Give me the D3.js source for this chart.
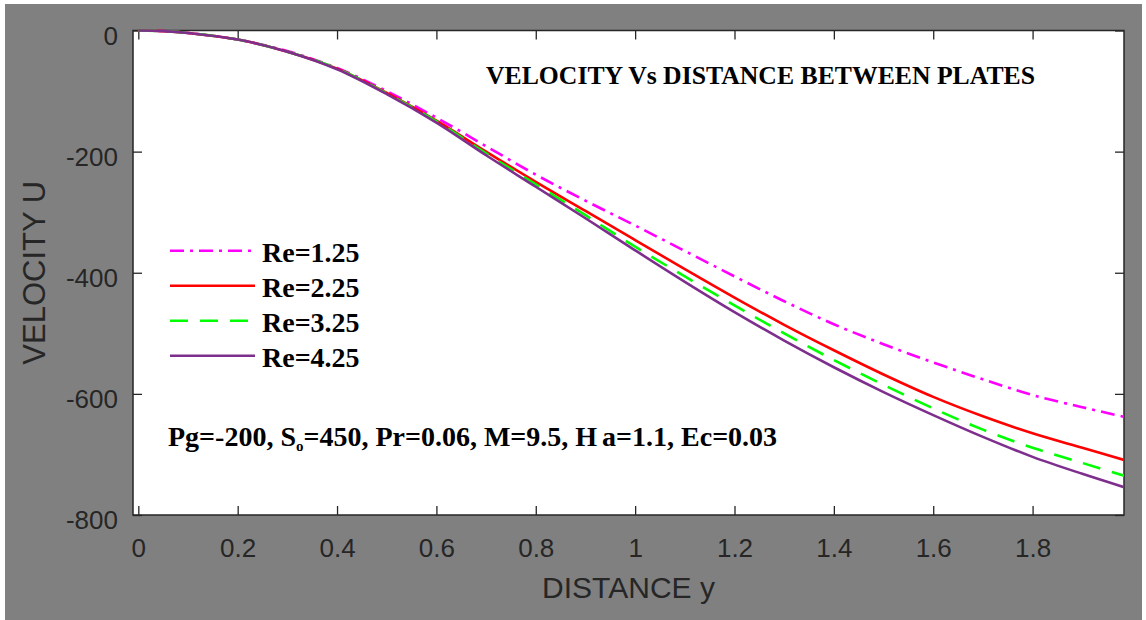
<!DOCTYPE html>
<html><head><meta charset="utf-8">
<script src="https://cdn.jsdelivr.net/npm/d3@7/dist/d3.min.js"></script>
<style>body{margin:0;background:#fff;overflow:hidden}</style>
</head><body>
<svg id="chart" width="1146" height="620"></svg>
<script>
// ---- data ----
const distance = [0,0.05,0.1,0.2,0.3,0.4,0.5,0.6,0.7,0.8,0.9,1.0,1.1,1.2,1.3,1.4,1.5,1.6,1.7,1.8,1.9,1.984];
const re125 = [0,-1,-4,-15,-34,-62,-100,-144,-191,-238,-281,-322,-364,-406,-447,-485,-518,-548,-576,-602,-622,-638];
const re225 = [0,-1,-4,-15,-35,-63,-103,-149,-200,-250,-298,-346,-394,-441,-486,-528,-568,-605,-637,-665,-689,-709];
const re325 = [0,-1,-4,-15,-35,-63,-104,-150,-203,-254,-305,-357,-406,-454,-500,-544,-585,-624,-659,-689,-714,-735];
const re425 = [0,-1,-4,-15,-35,-64,-105,-152,-206,-258,-310,-363,-415,-465,-512,-556,-597,-635,-671,-704,-732,-754];
const seriesNames = ["Re=1.25","Re=2.25","Re=3.25","Re=4.25"];
const xTicks = [0,0.2,0.4,0.6,0.8,1.0,1.2,1.4,1.6,1.8];
const yTicks = [-800,-600,-400,-200,0];
const xLimits = [-0.0107, 1.984];
const yLimits = [-800, 0];
const titleText = "VELOCITY Vs DISTANCE BETWEEN PLATES";
const xLabel = "DISTANCE y";
const yLabel = "VELOCITY U";

// ---- styles ----
const styles = [
  {color:"#ff00ff", dash:"14,6,3,6"},
  {color:"#ff0000", dash:null},
  {color:"#00ff00", dash:"18,12"},
  {color:"#7e2f8e", dash:null}
];
const allSeries = [re125, re225, re325, re425];

const svg = d3.select("#chart");
const L = 133, R = 1124, T = 30.5, B = 515;
const axisColor = "#262626";
const sans = "'Liberation Sans', Arial, Helvetica, sans-serif";
const serif = "'Liberation Serif', 'Times New Roman', serif";

svg.append("rect").attr("x",5).attr("y",4).attr("width",1137).attr("height",616).attr("fill","#808080");
svg.append("rect").attr("x",L).attr("y",T).attr("width",R-L).attr("height",B-T).attr("fill","#fff");

const x = d3.scaleLinear().domain(xLimits).range([L,R]);
const y = d3.scaleLinear().domain(yLimits).range([B,T]);

svg.append("clipPath").attr("id","clip").append("rect")
  .attr("x",L).attr("y",T-2).attr("width",R-L).attr("height",B-T+4);

const fmt = d => d3.format("~g")(d).replace("\u2212","-");
function styleAxis(g){
  g.select(".domain").remove();
  g.selectAll(".tick line").attr("stroke",axisColor).attr("stroke-width",1.3);
  g.selectAll("text").attr("fill",axisColor).style("font-family",sans).style("font-size","26px");
}
// bottom
svg.append("g").attr("transform",`translate(0,${B})`)
  .call(d3.axisBottom(x).tickValues(xTicks).tickFormat(fmt).tickSize(-9).tickPadding(24))
  .call(styleAxis);
// top
svg.append("g").attr("transform",`translate(0,${T})`)
  .call(d3.axisTop(x).tickValues(xTicks).tickFormat("").tickSize(-9))
  .call(styleAxis);
// left
svg.append("g").attr("transform",`translate(${L},0)`)
  .call(d3.axisLeft(y).tickValues(yTicks).tickFormat(fmt).tickSize(-9).tickPadding(15))
  .call(styleAxis)
  .call(g=>g.selectAll("text").attr("dy","0.52em"));
// right
svg.append("g").attr("transform",`translate(${R},0)`)
  .call(d3.axisRight(y).tickValues(yTicks).tickFormat("").tickSize(-9))
  .call(styleAxis);

// frame
svg.append("rect").attr("x",L).attr("y",T).attr("width",R-L).attr("height",B-T)
  .attr("fill","none").attr("stroke",axisColor).attr("stroke-width",1.5);

// lines
const line = d3.line().x((d,i)=>x(distance[i])).y(d=>y(d)).curve(d3.curveCatmullRom.alpha(0.5));
const plot = svg.append("g").attr("clip-path","url(#clip)");
allSeries.forEach((s,i)=>{
  plot.append("path").datum(s).attr("d",line)
    .attr("fill","none").attr("stroke",styles[i].color).attr("stroke-width",2.6)
    .attr("stroke-dasharray",styles[i].dash);
});

// legend
const lg = svg.append("g");
seriesNames.forEach((n,i)=>{
  const by = 261.7 + i*35;
  lg.append("line").attr("x1",170).attr("x2",255).attr("y1",by-11).attr("y2",by-11)
    .attr("stroke",styles[i].color).attr("stroke-width",2.6).attr("stroke-dasharray",styles[i].dash);
  lg.append("text").attr("x",262).attr("y",by).text(n)
    .style("font-family",serif).style("font-weight","bold").style("font-size","28px").attr("fill","#000");
});

// title
svg.append("text").attr("x",486).attr("y",84).text(titleText)
  .style("font-family",serif).style("font-weight","bold").style("font-size","26px")
  .attr("textLength",549).attr("lengthAdjust","spacingAndGlyphs").attr("fill","#000");

// annotation
const ann = svg.append("text").attr("x",168).attr("y",446)
  .style("font-family",serif).style("font-weight","bold").style("font-size","28px").attr("fill","#000");
ann.append("tspan").text("Pg=-200, S");
ann.append("tspan").text("o").style("font-size","15px").attr("dy",5);
ann.append("tspan").text("=450, Pr=0.06, M=9.5, H").attr("dy",-5);
ann.append("tspan").text("a=1.1, Ec=0.03").attr("dx",5);

// axis labels
svg.append("text").attr("x",(L+R)/2).attr("y",598).attr("text-anchor","middle").text(xLabel)
  .style("font-family",sans).style("font-size","30px").attr("fill",axisColor);
svg.append("text").attr("transform",`translate(45,${(T+B)/2}) rotate(-90)`).attr("text-anchor","middle").text(yLabel)
  .style("font-family",sans).style("font-size","31px").attr("fill",axisColor);
</script>
</body></html>
